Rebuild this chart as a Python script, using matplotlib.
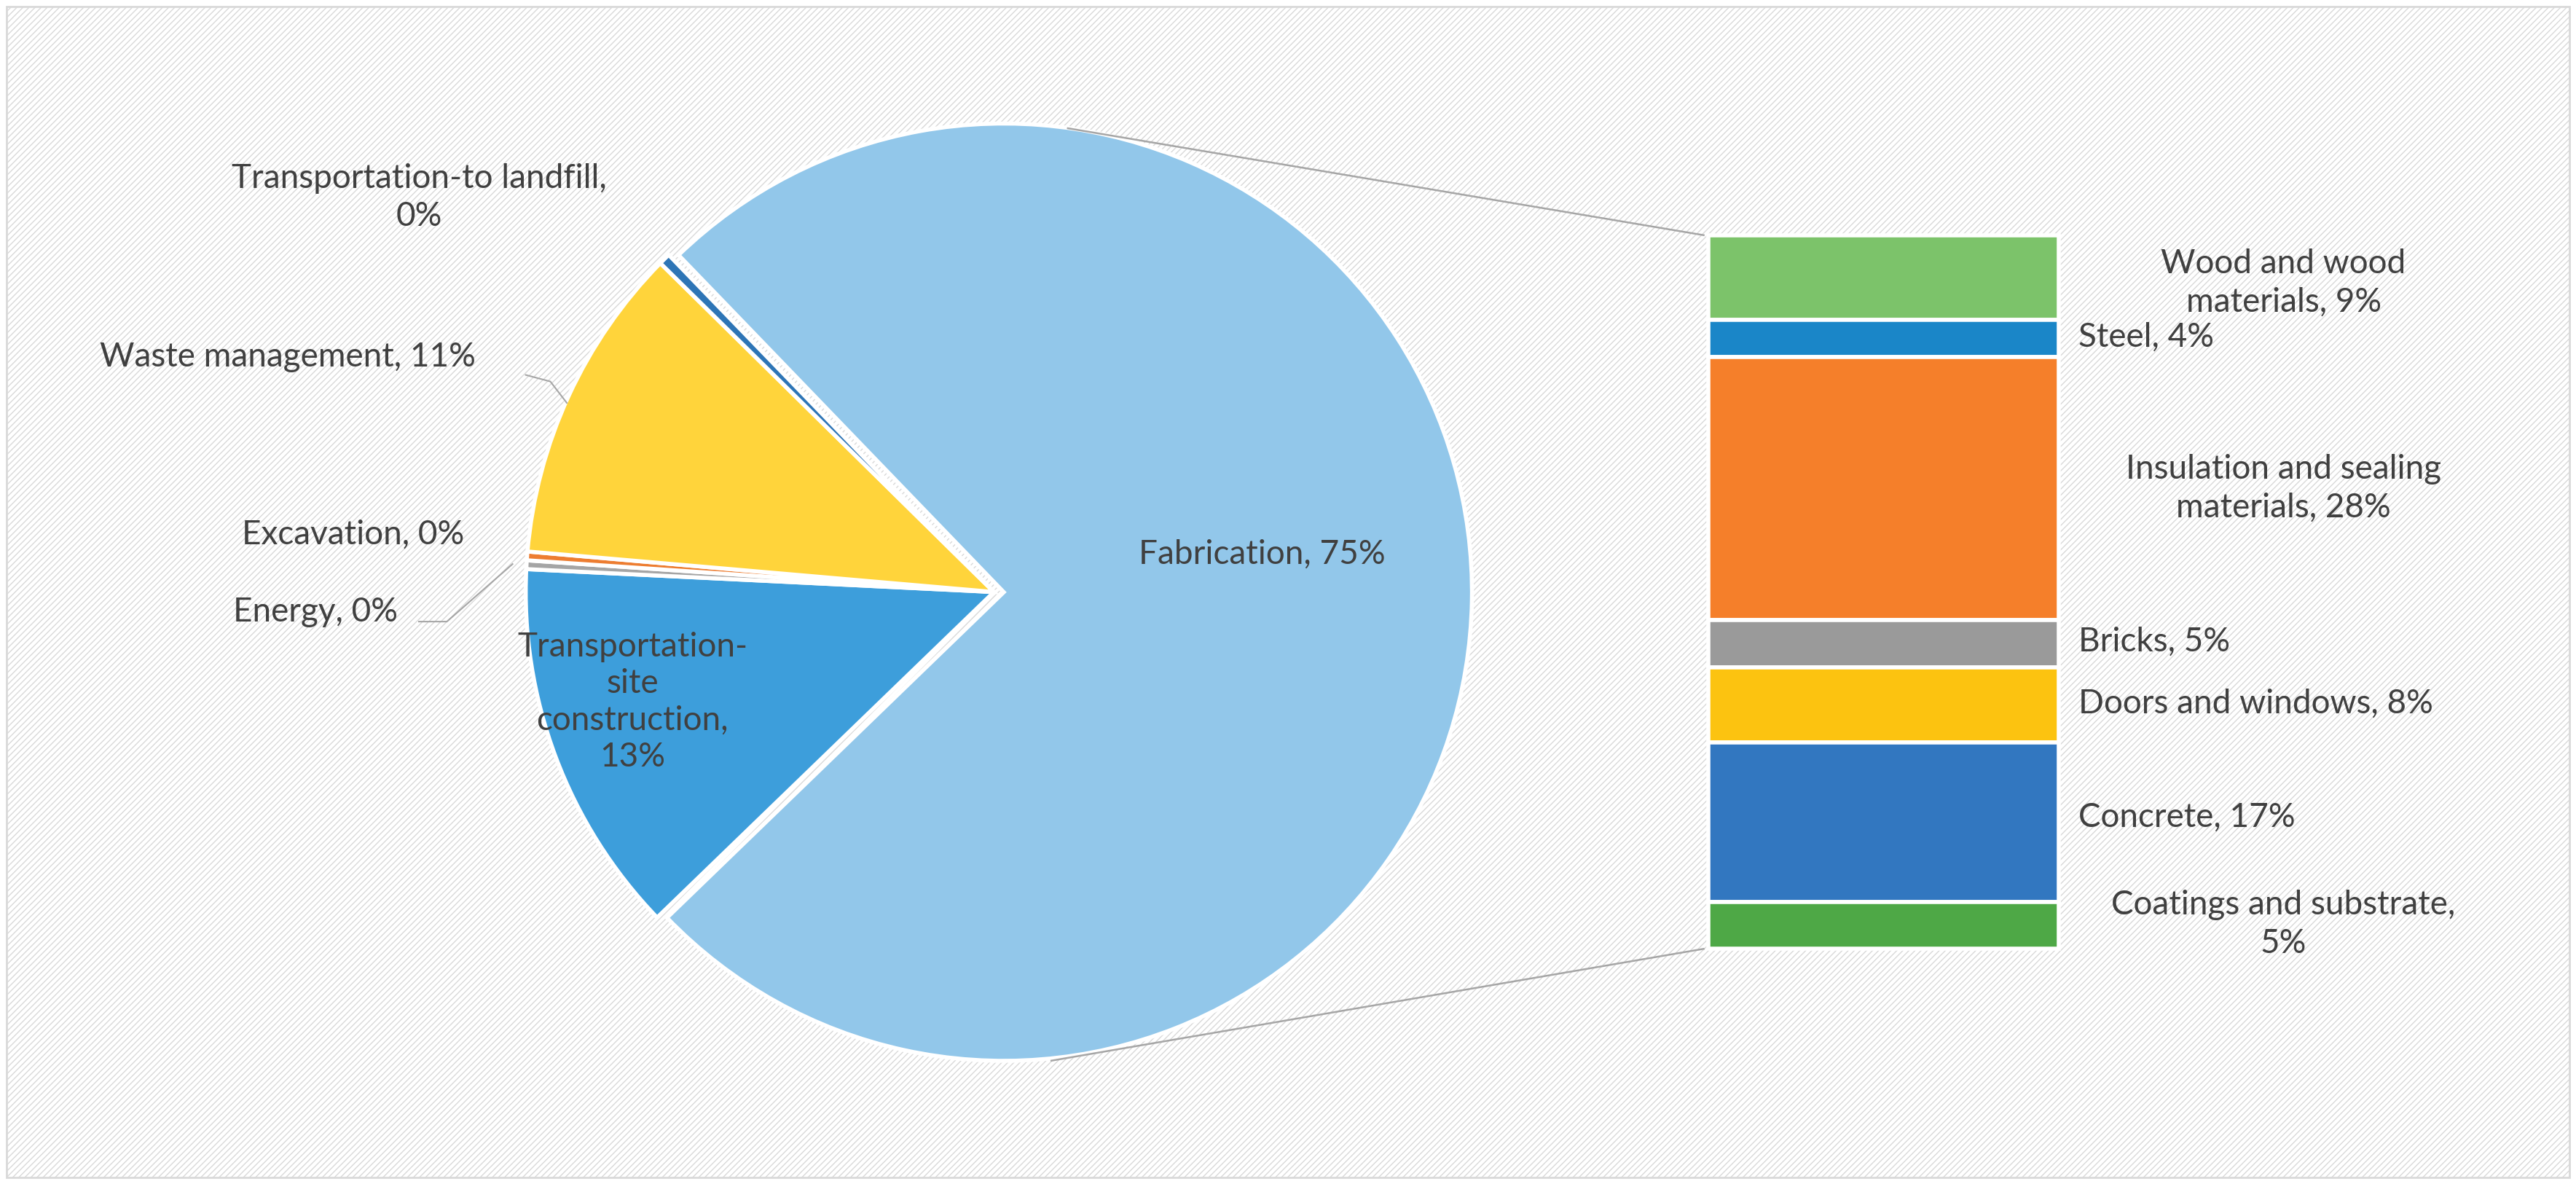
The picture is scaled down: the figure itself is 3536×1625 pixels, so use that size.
import matplotlib
matplotlib.use("Agg")
import matplotlib.pyplot as plt
from matplotlib.patches import Rectangle

plt.rcParams['font.family'] = ['Lato', 'DejaVu Sans']
plt.rcParams['hatch.color'] = "#e6e6e6"

# pie data (clockwise from top-left)
pie_labels = ["Fabrication", "Transportation-site construction", "Energy",
              "Excavation", "Waste management", "Transportation-to landfill"]
pie_values = [75, 13, 0.3, 0.3, 11, 0.4]
pie_colors = ["#92c7ea", "#3d9edb", "#a5a5a5", "#ed7d31", "#ffd43b", "#2e75b6"]

# bar-of-pie breakdown, top to bottom
bar_labels = ["Wood and wood materials", "Steel", "Insulation and sealing materials",
              "Bricks", "Doors and windows", "Concrete", "Coatings and substrate"]
bar_values = [9, 4, 28, 5, 8, 17, 5]
bar_colors = ["#7cc36a", "#1a86c8", "#f57f2a", "#9a9a9a", "#fcc310", "#3277c0", "#4ea846"]

W, H = 1568, 720
fig = plt.figure(figsize=(35.36, 16.25), dpi=100)
ax = fig.add_axes([0, 0, 1, 1])
TXT = "#404040"
FS = 33

def Y(yd):
    return H - yd

ax.add_patch(Rectangle((4, 4), W - 8, H - 8, facecolor="white", edgecolor="#d9d9d9",
                       hatch="////", linewidth=2, zorder=0))

ax.pie(pie_values, colors=pie_colors, startangle=134, counterclock=False,
       center=(605, Y(360)), radius=285, explode=[6, 0, 0, 0, 0, 0],
       wedgeprops=dict(edgecolor="white", linewidth=4), frame=True)

# stacked bar
x0, x1, top, bot = 1040, 1253, 143, 577
scale = (bot - top) / sum(bar_values)
cur = Y(top)
for v, c in zip(bar_values, bar_colors):
    h = v * scale
    ax.bar((x0 + x1) / 2, h, width=x1 - x0, bottom=cur - h, color=c,
           edgecolor="white", linewidth=4, zorder=3)
    cur -= h

# connector lines
ax.plot([650, 1037], [Y(78), Y(143)], color="#a6a6a6", lw=1.8, zorder=2)
ax.plot([640, 1037], [Y(645), Y(577)], color="#a6a6a6", lw=1.8, zorder=2)

# leader lines
ax.plot([320, 335, 345], [Y(228), Y(232), Y(245)], color="#a6a6a6", lw=1.5)
ax.plot([255, 272, 312], [Y(378), Y(378), Y(343)], color="#a6a6a6", lw=1.5)

kw = dict(fontsize=FS, color=TXT, va="center")
ax.text(255, Y(120), "Transportation-to landfill,\n0%", ha="center", linespacing=1.3, **kw)
ax.text(175, Y(217), "Waste management, 11%", ha="center", **kw)
ax.text(215, Y(325), "Excavation, 0%", ha="center", **kw)
ax.text(192, Y(372), "Energy, 0%", ha="center", **kw)
ax.text(385, Y(427), "Transportation-\nsite\nconstruction,\n13%", ha="center",
        linespacing=1.25, **kw)
ax.text(768, Y(337), "Fabrication, 75%", ha="center", **kw)

ax.text(1390, Y(172), "Wood and wood\nmaterials, 9%", ha="center", linespacing=1.3, **kw)
ax.text(1265, Y(205), "Steel, 4%", ha="left", **kw)
ax.text(1390, Y(297), "Insulation and sealing\nmaterials, 28%", ha="center", linespacing=1.3, **kw)
ax.text(1265, Y(390), "Bricks, 5%", ha="left", **kw)
ax.text(1265, Y(428), "Doors and windows, 8%", ha="left", **kw)
ax.text(1265, Y(497), "Concrete, 17%", ha="left", **kw)
ax.text(1390, Y(562), "Coatings and substrate,\n5%", ha="center", linespacing=1.3, **kw)

ax.set_xlim(0, W)
ax.set_ylim(0, H)
ax.set_aspect("auto")
ax.axis("off")
fig.savefig("out.png", dpi=100)
